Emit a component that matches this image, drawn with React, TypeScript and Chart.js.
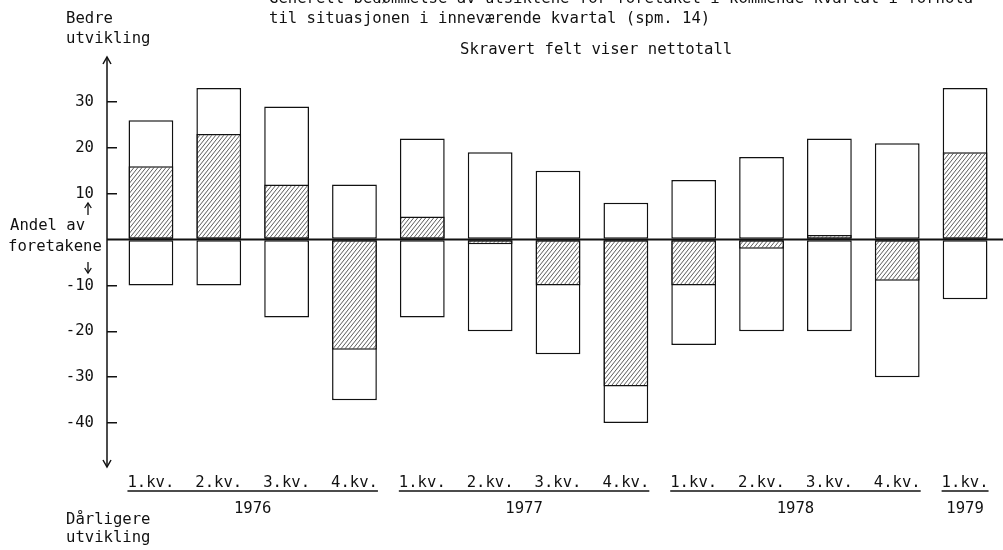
import { useEffect, useRef } from 'react';
import { Chart, registerables } from 'chart.js';

Chart.register(...registerables);

const quarterLabels = ['1.kv.', '2.kv.', '3.kv.', '4.kv.', '1.kv.', '2.kv.', '3.kv.', '4.kv.', '1.kv.', '2.kv.', '3.kv.', '4.kv.', '1.kv.'];
const betterShare = [26, 33, 29, 12, 22, 19, 15, 8, 13, 18, 22, 21, 33];
const worseShare = [-10, -10, -17, -35, -17, -20, -25, -40, -23, -20, -20, -30, -13];
const netShare = [16, 23, 12, -24, 5, -1, -10, -32, -10, -2, 1, -9, 19];
const years = ['1976', '1977', '1978', '1979'];
const yearFirstIndex = [0, 4, 8, 12];
const yearLastIndex = [3, 7, 11, 12];
const yTickValues = [30, 20, 10, -10, -20, -30, -40];

const titleLines = [
  'Generell bedømmelse av utsiktene for foretaket i kommende kvartal i forhold',
  'til situasjonen i inneværende kvartal (spm. 14)',
];
const subtitle = 'Skravert felt viser nettotall';
const topAxisLabel = ['Bedre', 'utvikling'];
const bottomAxisLabel = ['Dårligere', 'utvikling'];
const middleLabel = ['Andel av', 'foretakene'];

const FONT_FAMILY = '"DejaVu Sans Mono", "Liberation Mono", monospace';
const FONT_SIZE = 15.6;
const INK = '#111';

function makeHatch(): CanvasPattern | string {
  const w = 4;
  const h = 5;
  const c = document.createElement('canvas');
  c.width = w;
  c.height = h;
  const g = c.getContext('2d');
  if (!g) return '#ccc';
  g.fillStyle = '#fff';
  g.fillRect(0, 0, w, h);
  g.strokeStyle = '#333';
  g.lineWidth = 0.8;
  g.beginPath();
  for (const dx of [-w, 0, w]) {
    g.moveTo(dx, h);
    g.lineTo(dx + w, 0);
  }
  g.stroke();
  return g.createPattern(c, 'repeat') || '#ccc';
}

function arrowHead(ctx: CanvasRenderingContext2D, x: number, y: number, dir: number, hw: number, len: number) {
  ctx.beginPath();
  ctx.moveTo(x - hw, y - dir * len);
  ctx.lineTo(x, y);
  ctx.lineTo(x + hw, y - dir * len);
  ctx.stroke();
}

const annotatePlugin = {
  id: 'annotate',
  afterDraw(chart: any) {
    const { ctx, chartArea } = chart;
    const xs = chart.scales.x;
    const ys = chart.scales.y;
    ctx.save();
    ctx.strokeStyle = INK;
    ctx.fillStyle = INK;
    ctx.font = `${FONT_SIZE}px ${FONT_FAMILY}`;
    ctx.textBaseline = 'alphabetic';
    ctx.textAlign = 'left';

    const axisX = chartArea.left - 10;
    const zeroY = ys.getPixelForValue(0);

    // zero line
    ctx.lineWidth = 2;
    ctx.beginPath();
    ctx.moveTo(axisX, zeroY);
    ctx.lineTo(chart.width, zeroY);
    ctx.stroke();

    // vertical axis with arrows
    const topY = ys.getPixelForValue(ys.max) + 1;
    const botY = ys.getPixelForValue(ys.min) - 2;
    ctx.lineWidth = 1.5;
    ctx.beginPath();
    ctx.moveTo(axisX, topY);
    ctx.lineTo(axisX, botY);
    ctx.stroke();
    arrowHead(ctx, axisX, topY, -1, 4, 7);
    arrowHead(ctx, axisX, botY, 1, 4, 7);

    // texts
    ctx.fillText(titleLines[0], 269, 3);
    ctx.fillText(titleLines[1], 269, 23);
    ctx.fillText(subtitle, 460, 54);
    ctx.fillText(topAxisLabel[0], 66, 22.7);
    ctx.fillText(topAxisLabel[1], 66, 42.7);
    ctx.fillText(middleLabel[0], 10, 230);
    ctx.fillText(middleLabel[1], 8, 251);
    ctx.fillText(bottomAxisLabel[0], 66, 524);
    ctx.fillText(bottomAxisLabel[1], 66, 542);

    // small arrows near "Andel av foretakene"
    ctx.lineWidth = 1.3;
    ctx.beginPath();
    ctx.moveTo(88, 203);
    ctx.lineTo(88, 215);
    ctx.moveTo(88, 262);
    ctx.lineTo(88, 273);
    ctx.stroke();
    arrowHead(ctx, 88, 203, -1, 3.3, 5);
    arrowHead(ctx, 88, 273, 1, 3.3, 5);

    // year underlines and labels
    const labelW = ctx.measureText(quarterLabels[0]).width;
    ctx.lineWidth = 1.5;
    ctx.textAlign = 'center';
    years.forEach((yr, i) => {
      const l = xs.getPixelForValue(yearFirstIndex[i]) - labelW / 2;
      const r = xs.getPixelForValue(yearLastIndex[i]) + labelW / 2;
      ctx.beginPath();
      ctx.moveTo(l, 491);
      ctx.lineTo(r, 491);
      ctx.stroke();
      ctx.fillText(yr, (l + r) / 2, 513);
    });
    ctx.restore();
  },
};

export default function App() {
  const canvasRef = useRef<HTMLCanvasElement | null>(null);

  useEffect(() => {
    const canvas = canvasRef.current;
    if (!canvas) return;
    const hatch = makeHatch();
    const font = { family: FONT_FAMILY, size: FONT_SIZE };
    const chart = new Chart(canvas, {
      type: 'bar',
      data: {
        labels: quarterLabels,
        datasets: [
          {
            label: 'Nettotall',
            data: netShare,
            backgroundColor: hatch as any,
            borderColor: INK,
            borderWidth: 1.5,
            borderSkipped: false,
            order: 0,
          },
          {
            label: 'Bedre utvikling',
            data: betterShare,
            backgroundColor: '#fff',
            borderColor: INK,
            borderWidth: 1.5,
            borderSkipped: false,
            order: 1,
          },
          {
            label: 'Dårligere utvikling',
            data: worseShare,
            backgroundColor: '#fff',
            borderColor: INK,
            borderWidth: 1.5,
            borderSkipped: false,
            order: 1,
          },
        ],
      },
      options: {
        responsive: false,
        animation: false,
        devicePixelRatio: 1,
        datasets: { bar: { barPercentage: 0.66, categoryPercentage: 1 } },
        layout: { padding: { left: 57, right: 4, top: 56, bottom: 51 } },
        plugins: {
          legend: { display: false },
          tooltip: { enabled: false },
          title: { display: false },
        },
        scales: {
          x: {
            stacked: true,
            offset: true,
            grid: { display: false, drawTicks: false },
            border: { display: false },
            ticks: { color: INK, font, padding: 5, maxRotation: 0, autoSkip: false },
            afterFit: (s: any) => {
              s.height = 30;
            },
          },
          y: {
            min: -50,
            max: 40,
            grid: {
              drawOnChartArea: false,
              tickLength: 10,
              lineWidth: 1.5,
              color: (c: any) => (c.tick && yTickValues.includes(c.tick.value) ? INK : 'rgba(0,0,0,0)'),
            },
            border: { display: false },
            ticks: {
              stepSize: 10,
              padding: 13,
              color: INK,
              font,
              callback: (v: any) => (yTickValues.includes(Number(v)) ? String(v) : ''),
            },
            afterFit: (s: any) => {
              s.width = 60;
            },
          },
        },
      } as any,
      plugins: [annotatePlugin],
    });
    return () => chart.destroy();
  }, []);

  return (
    <div style={{ position: 'absolute', left: 0, top: 0, width: 1003, height: 550, background: '#fff' }}>
      <canvas ref={canvasRef} width={1003} height={550} style={{ display: 'block' }} />
    </div>
  );
}
